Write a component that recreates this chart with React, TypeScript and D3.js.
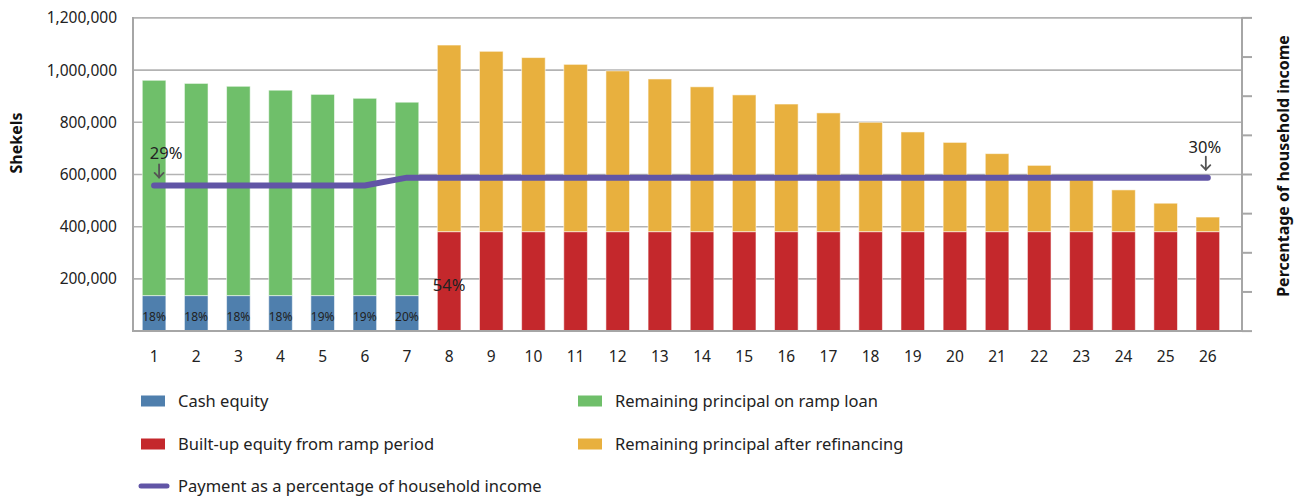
import React from "react";
import * as d3 from "d3";

const years = ["1","2","3","4","5","6","7","8","9","10","11","12","13","14","15","16","17","18","19","20","21","22","23","24","25","26"];
const cashEquity = [136000,136000,136000,136000,136000,136000,136000,0,0,0,0,0,0,0,0,0,0,0,0,0,0,0,0,0,0,0];
const rampPrincipal = [825000,813000,802000,787000,771000,756000,741000,0,0,0,0,0,0,0,0,0,0,0,0,0,0,0,0,0,0,0];
const builtUpEquity = [0,0,0,0,0,0,0,381000,381000,381000,381000,381000,381000,381000,381000,381000,381000,381000,381000,381000,381000,381000,381000,381000,381000,381000];
const refinancePrincipal = [0,0,0,0,0,0,0,715000,691000,667000,641000,616000,585000,555000,524000,489000,455000,419000,382000,342000,299000,254000,207000,160000,109000,56000];
const paymentShare = [0.286,0.286,0.286,0.286,0.286,0.286,0.296,0.296,0.296,0.296,0.296,0.296,0.296,0.296,0.296,0.296,0.296,0.296,0.296,0.296,0.296,0.296,0.296,0.296,0.296,0.296];
const cashLabels = ["18%","18%","18%","18%","19%","19%","20%"];
const leftTicks = [200000,400000,600000,800000,1000000,1200000];
const rightTicks = [0.10,0.15,0.20,0.25,0.30,0.35,0.40,0.45,0.50];

const seriesKeys = ["cash","ramp","built","refi"];
const seriesColors: Record<string,string> = {
  cash: "#4f7fad",
  ramp: "#6fbf6a",
  built: "#c4282c",
  refi: "#e8b03e",
};
const lineColor = "#6155a6";
const font = "'Noto Sans', sans-serif";

export default function App() {
  const W = 1302, H = 496;
  const left = 133, right = 1242, top = 17.9, bottom = 331.1;
  const step = 42.15;

  const x = d3.scaleBand<string>().domain(years).range([left, left + step * years.length]).paddingInner(0.44).paddingOuter(0.22);
  const y = d3.scaleLinear().domain([0, 1200000]).range([bottom, top]);
  const y2 = d3.scaleLinear().domain([0.10, 0.50]).range([bottom, top]);

  const table = years.map((yr, i) => ({
    year: yr,
    cash: cashEquity[i],
    ramp: rampPrincipal[i],
    built: builtUpEquity[i],
    refi: refinancePrincipal[i],
  }));
  const stacked = d3.stack<any>().keys(seriesKeys)(table);

  const cx = (yr: string) => (x(yr) as number) + x.bandwidth() / 2;
  const line = d3.line<number>().x((_, i) => cx(years[i])).y((d) => y2(d));
  const fmt = d3.format(",");

  const firstX = cx(years[0]);
  const lastX = cx(years[years.length - 1]);
  const firstY = y2(paymentShare[0]);
  const lastY = y2(paymentShare[paymentShare.length - 1]);

  const arrow = (ax: number, ly: number) => {
    const y0 = ly - 21, y1 = ly - 8;
    return (
      <g stroke="#555" strokeWidth={1.8} fill="none" strokeLinecap="round">
        <line x1={ax} x2={ax} y1={y0} y2={y1} />
        <path d={`M${ax - 4.5},${y1 - 4.5} L${ax},${y1} L${ax + 4.5},${y1 - 4.5}`} />
      </g>
    );
  };

  const legendItems = [
    { label: "Cash equity", color: seriesColors.cash, x: 141, y: 401, type: "rect" },
    { label: "Remaining principal on ramp loan", color: seriesColors.ramp, x: 578, y: 401, type: "rect" },
    { label: "Built-up equity from ramp period", color: seriesColors.built, x: 141, y: 444, type: "rect" },
    { label: "Remaining principal after refinancing", color: seriesColors.refi, x: 578, y: 444, type: "rect" },
    { label: "Payment as a percentage of household income", color: lineColor, x: 141, y: 486, type: "line" },
  ];

  return (
    <svg width={W} height={H} style={{ position: "absolute", left: 0, top: 0, background: "#fff" }} fontFamily={font}>
      <g stroke="#b3b3b3" strokeWidth={1.6}>
        {leftTicks.map((t) => (
          <line key={t} x1={left} x2={right} y1={y(t)} y2={y(t)} />
        ))}
      </g>
      {stacked.map((s) => (
        <g key={s.key} fill={seriesColors[s.key]}>
          {s.map((d, i) =>
            d[1] - d[0] > 0 ? (
              <rect
                key={i}
                x={x(years[i])}
                width={x.bandwidth()}
                y={y(d[1])}
                height={y(d[0]) - y(d[1])}
                stroke="rgba(255,255,255,0.55)"
                strokeWidth={1}
              />
            ) : null
          )}
        </g>
      ))}
      <g stroke="#a6a6a6" strokeWidth={2} fill="none">
        <line x1={left} x2={left} y1={top - 1} y2={bottom + 1} />
        <line x1={left} x2={right} y1={bottom} y2={bottom} />
        <line x1={right} x2={right} y1={top - 1} y2={bottom + 1} />
        {rightTicks.map((t) => (
          <line key={t} x1={right} x2={right + 10} y1={y2(t)} y2={y2(t)} />
        ))}
      </g>
      <g fontSize={15.5} fill="#222" textAnchor="end">
        {leftTicks.map((t) => (
          <text key={t} x={117} y={y(t)} dy="0.36em">{fmt(t)}</text>
        ))}
      </g>
      <g fontSize={15.5} fill="#222" textAnchor="middle">
        {years.map((yr) => (
          <text key={yr} x={cx(yr)} y={362}>{yr}</text>
        ))}
      </g>
      <g fontSize={12} fill="#222" textAnchor="middle">
        {cashLabels.map((l, i) => (
          <text key={i} x={cx(years[i])} y={321}>{l}</text>
        ))}
      </g>
      <text x={cx(years[7])} y={291} fontSize={16.5} fill="#222" textAnchor="middle">54%</text>
      <path d={line(paymentShare) || ""} fill="none" stroke={lineColor} strokeWidth={6} strokeLinecap="round" strokeLinejoin="round" />
      <text x={firstX + 12} y={firstY - 26} fontSize={16.5} fill="#222" textAnchor="middle">29%</text>
      {arrow(firstX + 5, firstY)}
      <text x={lastX - 3} y={lastY - 25} fontSize={16.5} fill="#222" textAnchor="middle">30%</text>
      {arrow(lastX - 2, lastY)}
      <text transform={`translate(22,143) rotate(-90)`} fontSize={16} fontWeight="bold" fill="#111" textAnchor="middle">Shekels</text>
      <text transform={`translate(1289,166) rotate(-90)`} fontSize={16} fontWeight="bold" fill="#111" textAnchor="middle">Percentage of household income</text>
      <g fontSize={16.5} fill="#222">
        {legendItems.map((it) => (
          <g key={it.label}>
            {it.type === "rect" ? (
              <rect x={it.x} y={it.y - 5.5} width={24} height={11} fill={it.color} />
            ) : (
              <line x1={it.x} x2={it.x + 26} y1={it.y} y2={it.y} stroke={it.color} strokeWidth={5} strokeLinecap="round" />
            )}
            <text x={it.x + 37} y={it.y} dy="0.35em">{it.label}</text>
          </g>
        ))}
      </g>
    </svg>
  );
}
